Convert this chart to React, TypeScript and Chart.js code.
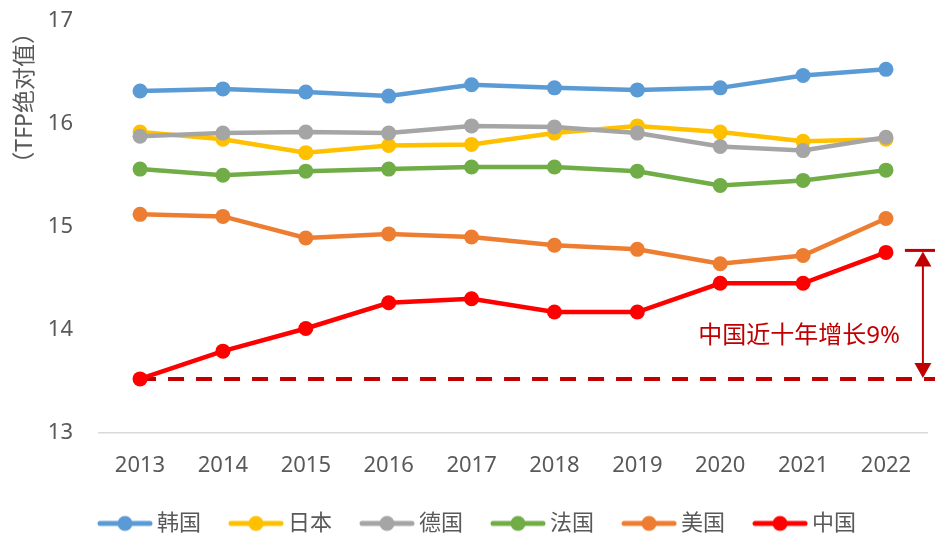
import React, { useEffect, useRef } from 'react';
import { Chart, registerables } from 'chart.js';

Chart.register(...registerables);

const years = ['2013', '2014', '2015', '2016', '2017', '2018', '2019', '2020', '2021', '2022'];
const korea = [16.32, 16.34, 16.31, 16.27, 16.38, 16.35, 16.33, 16.35, 16.47, 16.53];
const japan = [15.92, 15.85, 15.72, 15.79, 15.80, 15.91, 15.98, 15.92, 15.83, 15.85];
const germany = [15.88, 15.91, 15.92, 15.91, 15.98, 15.97, 15.91, 15.78, 15.74, 15.87];
const france = [15.56, 15.50, 15.54, 15.56, 15.58, 15.58, 15.54, 15.40, 15.45, 15.55];
const usa = [15.12, 15.10, 14.89, 14.93, 14.90, 14.82, 14.78, 14.64, 14.72, 15.08];
const china = [13.52, 13.79, 14.01, 14.26, 14.30, 14.17, 14.17, 14.45, 14.45, 14.75];

const seriesNames = ['韩国', '日本', '德国', '法国', '美国', '中国'];
const seriesValues = [korea, japan, germany, france, usa, china];
const seriesColors = ['#5B9BD5', '#FFC000', '#A5A5A5', '#70AD47', '#ED7D31', '#FF0000'];

const yMin = 13;
const yMax = 17;
const yStep = 1;
const yTitle = '（TFP绝对值）';
const annotationText = '中国近十年增长9%';

const FONT = "'Noto Sans', 'Noto Sans CJK SC', sans-serif";
const TEXT_COLOR = '#595959';
const ANNOT_COLOR = '#C00000';

function makeMarker(color: string): HTMLCanvasElement {
  const c = document.createElement('canvas');
  c.width = 56;
  c.height = 18;
  const ctx = c.getContext('2d')!;
  ctx.strokeStyle = color;
  ctx.lineWidth = 5;
  ctx.lineCap = 'round';
  ctx.beginPath();
  ctx.moveTo(3, 9);
  ctx.lineTo(53, 9);
  ctx.stroke();
  ctx.fillStyle = color;
  ctx.beginPath();
  ctx.arc(28, 9, 7.5, 0, Math.PI * 2);
  ctx.fill();
  return c;
}

const annotationPlugin = {
  id: 'chinaGrowth',
  beforeDatasetsDraw(chart: any) {
    const { ctx, scales, width } = chart;
    const x0 = scales.x.getPixelForValue(0);
    const yb = scales.y.getPixelForValue(china[0]);
    ctx.save();
    ctx.strokeStyle = ANNOT_COLOR;
    ctx.lineWidth = 4;
    ctx.setLineDash([16, 12]);
    ctx.beginPath();
    ctx.moveTo(x0, yb);
    ctx.lineTo(width, yb);
    ctx.stroke();
    ctx.restore();
  },
  afterDatasetsDraw(chart: any) {
    const { ctx, scales, chartArea, width } = chart;
    const yt = scales.y.getPixelForValue(china[china.length - 1]) - 2;
    const yb = scales.y.getPixelForValue(china[0]);
    const ax = chartArea.right - 4.5;
    ctx.save();
    ctx.strokeStyle = ANNOT_COLOR;
    ctx.fillStyle = ANNOT_COLOR;
    ctx.lineWidth = 3;
    ctx.beginPath();
    ctx.moveTo(ax - 18, yt);
    ctx.lineTo(width, yt);
    ctx.stroke();
    ctx.lineWidth = 2;
    ctx.beginPath();
    ctx.moveTo(ax, yt + 10);
    ctx.lineTo(ax, yb - 10);
    ctx.stroke();
    ctx.beginPath();
    ctx.moveTo(ax, yt + 1);
    ctx.lineTo(ax - 8.5, yt + 16);
    ctx.lineTo(ax + 8.5, yt + 16);
    ctx.closePath();
    ctx.fill();
    ctx.beginPath();
    ctx.moveTo(ax, yb - 1);
    ctx.lineTo(ax - 8.5, yb - 16);
    ctx.lineTo(ax + 8.5, yb - 16);
    ctx.closePath();
    ctx.fill();
    ctx.font = `24px ${FONT}`;
    ctx.textAlign = 'right';
    ctx.textBaseline = 'middle';
    ctx.fillText(annotationText, ax - 23, (yt + 2 * yb) / 3);
    ctx.restore();
  },
};

export default function App() {
  const ref = useRef<HTMLCanvasElement>(null);

  useEffect(() => {
    document.body.style.margin = '0';
    const canvas = ref.current;
    if (!canvas) return;
    Chart.defaults.font.family = FONT;
    const markers = seriesColors.map(makeMarker);
    const n = seriesNames.length;

    const chart = new Chart(canvas, {
      type: 'line',
      data: {
        labels: years,
        datasets: seriesNames.map((name, i) => ({
          label: name,
          data: seriesValues[i],
          borderColor: seriesColors[i],
          backgroundColor: seriesColors[i],
          pointBackgroundColor: seriesColors[i],
          pointBorderWidth: 0,
          pointRadius: 7.5,
          pointHoverRadius: 7.5,
          borderWidth: 4.5,
          tension: 0,
          fill: false,
          order: n - i,
        })),
      },
      options: {
        responsive: false,
        animation: false,
        devicePixelRatio: 1,
        layout: { padding: { left: 32.6, right: 7.6, top: 21, bottom: -10.4 } },
        plugins: {
          tooltip: { enabled: false },
          legend: {
            display: true,
            position: 'bottom',
            align: 'center',
            labels: {
              usePointStyle: true,
              pointStyleWidth: 42,
              padding: 34,
              color: TEXT_COLOR,
              font: { size: 22, family: FONT },
              generateLabels: () =>
                seriesNames.map((name, i) => ({
                  text: name,
                  fillStyle: seriesColors[i],
                  strokeStyle: seriesColors[i],
                  lineWidth: 0,
                  pointStyle: markers[i] as any,
                  hidden: false,
                  datasetIndex: i,
                  fontColor: TEXT_COLOR,
                })),
            },
          },
        },
        scales: {
          x: {
            type: 'category',
            offset: true,
            grid: { display: false, drawTicks: false },
            border: { display: true, color: '#D9D9D9', width: 1.5 },
            ticks: { color: TEXT_COLOR, font: { size: 22, family: FONT }, padding: 20, maxRotation: 0 },
            afterFit: (s: any) => {
              s.height = 46;
            },
          },
          y: {
            min: yMin,
            max: yMax,
            grid: { display: false, drawTicks: false },
            border: { display: false },
            ticks: { stepSize: yStep, color: TEXT_COLOR, font: { size: 22, family: FONT }, padding: 25.6 },
            title: {
              display: true,
              text: yTitle,
              align: 'end',
              color: TEXT_COLOR,
              font: { size: 23, family: FONT },
              padding: { top: -21.4, bottom: 0 },
            },
            afterFit: (s: any) => {
              s.width = 66;
              s.paddingTop = 10;
              s.paddingBottom = 10;
            },
          },
        },
      } as any,
      plugins: [annotationPlugin],
    });

    return () => chart.destroy();
  }, []);

  return (
    <div style={{ width: 935, height: 534 }}>
      <canvas ref={ref} width={935} height={534} style={{ display: 'block' }} />
    </div>
  );
}
